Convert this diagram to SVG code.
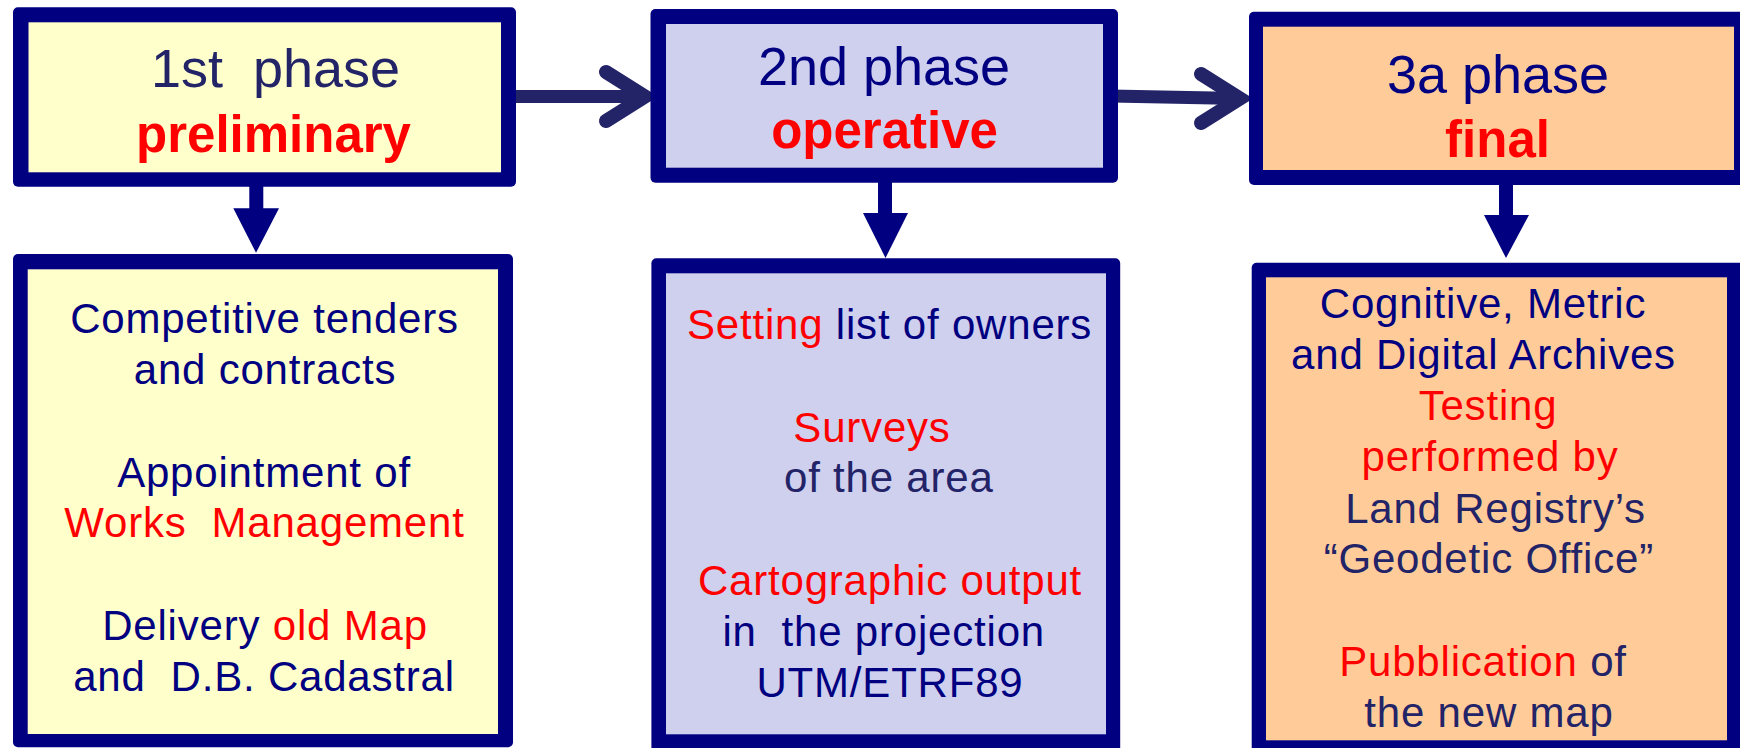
<svg xmlns="http://www.w3.org/2000/svg" width="1740" height="748" viewBox="0 0 1740 748">
<style>
.frame{fill:#000080}
.y{fill:#ffffcc}
.l{fill:#cfcfee}
.o{fill:#ffcc99}
text{font-family:"Liberation Sans",Arial,sans-serif;text-anchor:middle}
.h{font-size:54px}
.hb{font-size:51px;font-weight:bold}
.t{font-size:42px;letter-spacing:0.8px}
.n{fill:#000080}
.s{fill:#232368}
.r{fill:#ff0000}
.shaft{stroke:#232368;stroke-width:13;fill:none}
.chev{stroke:#232368;stroke-width:14;fill:none;stroke-linecap:round;stroke-linejoin:miter}
.down{fill:#000080}
</style>

<g id="connectors">
  <line class="shaft" x1="509" y1="96.5" x2="646" y2="96.5"/>
  <polyline class="chev" points="606,72 645,96.5 606,121"/>
  <line class="shaft" x1="1111" y1="96" x2="1240" y2="98.5"/>
  <polyline class="chev" points="1201,74 1240,98.5 1201,123"/>
  <path class="down" d="M249.3,185 H263.3 V208.3 H279 L256,252.7 L233.3,208.3 H249.3 Z"/>
  <path class="down" d="M878,181 H892 V213 H908 L885.5,258 L863,213 H878 Z"/>
  <path class="down" d="M1499,183 H1513 V215 H1529 L1506,258 L1484,215 H1499 Z"/>
</g>

<g id="phase1">
  <rect class="frame" x="13" y="7.3" width="503" height="179.4" rx="5"/>
  <rect class="y" x="28.5" y="22.3" width="472.5" height="150"/>
  <text class="h s" x="275.5" y="87.3" xml:space="preserve">1st  phase</text>
  <text class="hb r" x="273.5" y="152.3">preliminary</text>
</g>

<g id="phase2">
  <rect class="frame" x="650.5" y="9" width="467.5" height="173.7" rx="5"/>
  <rect class="l" x="666" y="24" width="437" height="143.7"/>
  <text class="h n" x="884" y="85">2nd phase</text>
  <text class="hb r" x="884.6" y="148.3">operative</text>
</g>

<g id="phase3">
  <rect class="frame" x="1249" y="11.7" width="500" height="173.3" rx="5"/>
  <rect class="o" x="1263" y="26.7" width="471" height="143.3"/>
  <text class="h n" x="1498" y="93.3">3a phase</text>
  <text class="hb r" x="1497.5" y="156.7">final</text>
</g>

<g id="tasks1">
  <rect class="frame" x="13" y="254" width="500" height="493.3" rx="5"/>
  <rect class="y" x="27.7" y="269.3" width="470.3" height="464.7"/>
  <text class="t n" x="264.5" y="333">Competitive tenders</text>
  <text class="t n" x="265" y="384">and contracts</text>
  <text class="t n" x="264" y="487">Appointment of</text>
  <text class="t r" x="264.5" y="537" xml:space="preserve">Works  Management</text>
  <text class="t" x="265" y="640"><tspan class="n">Delivery </tspan><tspan class="r">old Map</tspan></text>
  <text class="t n" x="264" y="691" xml:space="preserve">and  D.B. Cadastral</text>
</g>

<g id="tasks2">
  <rect class="frame" x="651.4" y="258.3" width="468.8" height="500" rx="5"/>
  <rect class="l" x="666" y="273.3" width="440" height="461"/>
  <text class="t" x="889.6" y="339"><tspan class="r">Setting </tspan><tspan class="n">list of owners</tspan></text>
  <text class="t r" x="872" y="441.7">Surveys</text>
  <text class="t s" x="888.8" y="492.3">of the area</text>
  <text class="t r" x="890" y="595">Cartographic output</text>
  <text class="t n" x="883.7" y="646" xml:space="preserve">in  the projection</text>
  <text class="t n" x="890" y="696.7">UTM/ETRF89</text>
</g>

<g id="tasks3">
  <rect class="frame" x="1251.7" y="262.7" width="500" height="500" rx="5"/>
  <rect class="o" x="1266" y="277.3" width="461" height="463"/>
  <text class="t n" x="1483" y="318.3">Cognitive, Metric</text>
  <text class="t n" x="1483.5" y="369.3">and Digital Archives</text>
  <text class="t r" x="1488" y="420">Testing</text>
  <text class="t r" x="1490" y="471">performed by</text>
  <text class="t s" x="1495.5" y="522.7">Land Registry’s</text>
  <text class="t s" x="1488.8" y="573.3">“Geodetic Office”</text>
  <text class="t" x="1483" y="676"><tspan class="r">Pubblication </tspan><tspan class="s">of</tspan></text>
  <text class="t s" x="1489" y="726.7">the new map</text>
</g>
</svg>
